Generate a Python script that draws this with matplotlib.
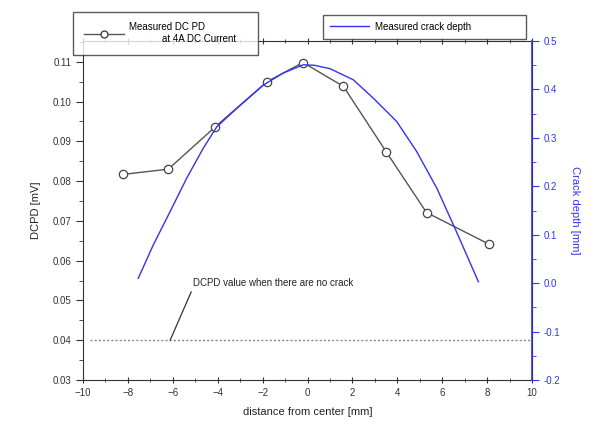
import matplotlib
matplotlib.use("Agg")
import matplotlib.pyplot as plt
from matplotlib.ticker import MultipleLocator, FormatStrFormatter
from matplotlib.lines import Line2D

plt.rcParams['font.family'] = ['Liberation Sans', 'DejaVu Sans']

# DCPD measurements
dcpd_x = [-8.2, -6.2, -4.1, -1.8, -0.2, 1.6, 3.5, 5.3, 8.1]
dcpd_y = [0.0817, 0.0830, 0.0937, 0.1050, 0.1098, 0.1038, 0.0874, 0.0721, 0.0641]

# Measured crack depth
crack_x = [-7.54, -6.87, -6.12, -5.38, -4.64, -4.04, -3.15, -1.97, -1.08, -0.19,
           0.3, 1.0, 2.04, 2.93, 3.97, 4.86, 5.76, 6.57, 7.09, 7.61]
crack_y = [0.010, 0.079, 0.148, 0.217, 0.279, 0.323, 0.361, 0.409, 0.434, 0.451,
           0.450, 0.443, 0.420, 0.382, 0.334, 0.272, 0.196, 0.113, 0.058, 0.003]

baseline_value = 0.04
baseline_x = [-9.7, 10.0]

fig = plt.figure(figsize=(5.99, 4.34), dpi=100)
ax = fig.add_axes([0.1386, 0.1244, 0.7496, 0.781])
ax2 = ax.twinx()

ax.plot(dcpd_x, dcpd_y, color='#555555', lw=1.0, marker='o', ms=6,
        mfc='white', mec='#444444', mew=0.9, zorder=3)
ax.plot(baseline_x, [baseline_value] * 2, color='#888888', lw=1.0, ls=(0, (1.5, 1.5)))
ax.annotate('DCPD value when there are no crack', xy=(-6.12, 0.04), xytext=(-5.1, 0.0537),
            fontsize=7, color='#222222',
            arrowprops=dict(arrowstyle='-', color='#333333', lw=0.9, relpos=(0, 0),
                            shrinkA=1, shrinkB=0))

ax2.plot(crack_x, crack_y, color='#3333ee', lw=1.0)

ax.set_xlim(-10, 10)
ax.set_ylim(0.03, 0.1152)
ax2.set_ylim(-0.2, 0.5)

ax.xaxis.set_major_locator(MultipleLocator(2))
ax.xaxis.set_minor_locator(MultipleLocator(1))
ax.yaxis.set_major_locator(MultipleLocator(0.01))
ax.yaxis.set_minor_locator(MultipleLocator(0.005))
ax.yaxis.set_major_formatter(FormatStrFormatter('%.2f'))
ax2.yaxis.set_major_locator(MultipleLocator(0.1))
ax2.yaxis.set_minor_locator(MultipleLocator(0.05))
ax2.yaxis.set_major_formatter(FormatStrFormatter('%.1f'))

ax.tick_params(axis='both', which='both', direction='out', labelsize=7, colors='#333333')
ax.tick_params(axis='x', which='both', top=True, direction='inout')
ax.tick_params(which='major', length=5)
ax.tick_params(which='minor', length=3)
ax2.tick_params(axis='y', which='both', direction='out', labelsize=7, colors='#3333ee')
ax2.tick_params(which='major', length=5)
ax2.tick_params(which='minor', length=3)

for s in ['left', 'bottom', 'top']:
    ax.spines[s].set_color('#333333')
ax2.spines['right'].set_color('#3333ee')
ax2.spines['right'].set_linewidth(1.2)
for s in ['left', 'bottom', 'top']:
    ax2.spines[s].set_visible(False)

ax.set_xlabel('distance from center [mm]', fontsize=8, color='#222222', labelpad=6)
ax.set_ylabel('DCPD [mV]', fontsize=8, color='#222222', labelpad=8)
ax2.set_ylabel('Crack depth [mm]', fontsize=8, color='#3333ee', rotation=-90, labelpad=14)

h1 = Line2D([], [], color='#555555', lw=1.0, marker='o', ms=5, mfc='white', mec='#444444')
leg1 = fig.legend([h1], ['Measured DC PD\n            at 4A DC Current'], loc='upper left',
                  bbox_to_anchor=(68 / 599, 1 - 11 / 434, 195 / 599, 0.01), mode='expand',
                  fontsize=7, frameon=True, fancybox=False, edgecolor='#333333',
                  borderpad=1.1, handlelength=4.2, handletextpad=0.5)
leg1.get_frame().set_linewidth(1.0)
h2 = Line2D([], [], color='#3333ee', lw=1.0)
leg2 = fig.legend([h2], ['Measured crack depth'], loc='upper left',
                  bbox_to_anchor=(318 / 599, 1 - 14 / 434, 213 / 599, 0.01), mode='expand',
                  fontsize=7, frameon=True, fancybox=False, edgecolor='#333333',
                  borderpad=0.75, handlelength=4, handletextpad=0.6)
leg2.get_frame().set_linewidth(1.0)

fig.savefig('out.png', dpi=100)
